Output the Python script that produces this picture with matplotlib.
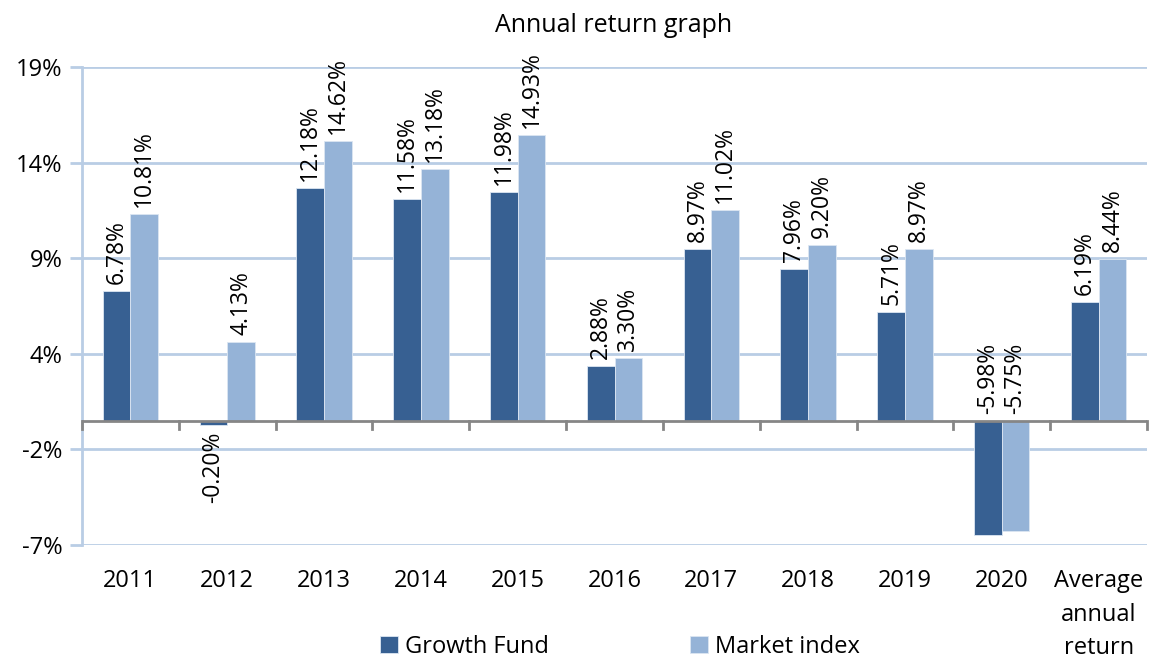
import matplotlib
matplotlib.use("Agg")
import matplotlib.pyplot as plt
import numpy as np
from matplotlib.transforms import offset_copy

plt.rcParams['font.family'] = ['Open Sans', 'DejaVu Sans']

categories = ["2011", "2012", "2013", "2014", "2015", "2016", "2017", "2018",
              "2019", "2020", "Average\nannual\nreturn"]
growth_fund = [6.78, -0.20, 12.18, 11.58, 11.98, 2.88, 8.97, 7.96, 5.71, -5.98, 6.19]
market_index = [10.81, 4.13, 14.62, 13.18, 14.93, 3.30, 11.02, 9.20, 8.97, -5.75, 8.44]
series_names = ["Growth Fund", "Market index"]
y_ticks = [-6.5, -1.5, 3.5, 8.5, 13.5, 18.5]
y_tick_labels = ["-7%", "-2%", "4%", "9%", "14%", "19%"]

dark = "#376092"
light = "#95B3D7"
grid_c = "#B9CDE5"

fig = plt.figure(figsize=(11.5, 6.61), dpi=100)
ax = fig.add_axes([82/1150, 1-545/661, (1147-82)/1150, (545-67)/661])

x = np.arange(len(categories))
w = 1/3.5
b1 = ax.bar(x - w/2, growth_fund, w, color=dark, edgecolor="#dce6f2", linewidth=0.6, label=series_names[0], zorder=3)
b2 = ax.bar(x + w/2, market_index, w, color=light, edgecolor="#dce6f2", linewidth=0.6, label=series_names[1], zorder=3)

ax.set_xlim(-0.5, len(categories) - 0.5)
ax.set_ylim(y_ticks[0], y_ticks[-1])
ax.set_yticks(y_ticks)
ax.set_yticklabels(y_tick_labels, fontsize=17)
ax.yaxis.grid(True, color=grid_c, linewidth=2, zorder=0)
ax.set_axisbelow(True)
ax.tick_params(axis='y', length=9, width=2, color=grid_c, pad=5)

for s in ["top", "right", "bottom"]:
    ax.spines[s].set_visible(False)
ax.spines["left"].set_color(grid_c)
ax.spines["left"].set_linewidth(2)

# zero line with category boundary ticks
ax.axhline(0, color="#868686", linewidth=2, zorder=4)
for b in np.arange(-0.5, len(categories), 1.0):
    ax.plot([b, b], [0, -0.42], color="#868686", linewidth=2, zorder=4, clip_on=False)

ax.set_xticks(x)
ax.set_xticklabels(categories, fontsize=17, linespacing=1.55)
ax.tick_params(axis='x', length=0, pad=17)

def label(bars, vals):
    for rect, v in zip(bars, vals):
        cx = rect.get_x() + rect.get_width()/2
        txt = f"{v:.2f}%"
        if v >= 0 or v < -1:
            yb = max(v, 0)
            tr = offset_copy(ax.transData, fig=fig, x=0, y=5, units='points')
            ax.text(cx, yb, txt, rotation=90, ha='center', va='bottom', fontsize=16.5, transform=tr, zorder=5)
        else:
            tr = offset_copy(ax.transData, fig=fig, x=0, y=-5, units='points')
            ax.text(cx, v, txt, rotation=90, ha='center', va='top', fontsize=16.5, transform=tr, zorder=5)

label(b1, growth_fund)
label(b2, market_index)

fig.text(614/1150, 1-26/661, "Annual return graph", ha='center', va='center', fontsize=18)

leg = fig.legend(loc='center', bbox_to_anchor=(620/1150, 1-647/661), ncol=2, frameon=False,
                 fontsize=17, handlelength=0.75, handleheight=0.75, handletextpad=0.3, columnspacing=6.0,
                 borderpad=0.1)

fig.savefig("out.png", dpi=100)
